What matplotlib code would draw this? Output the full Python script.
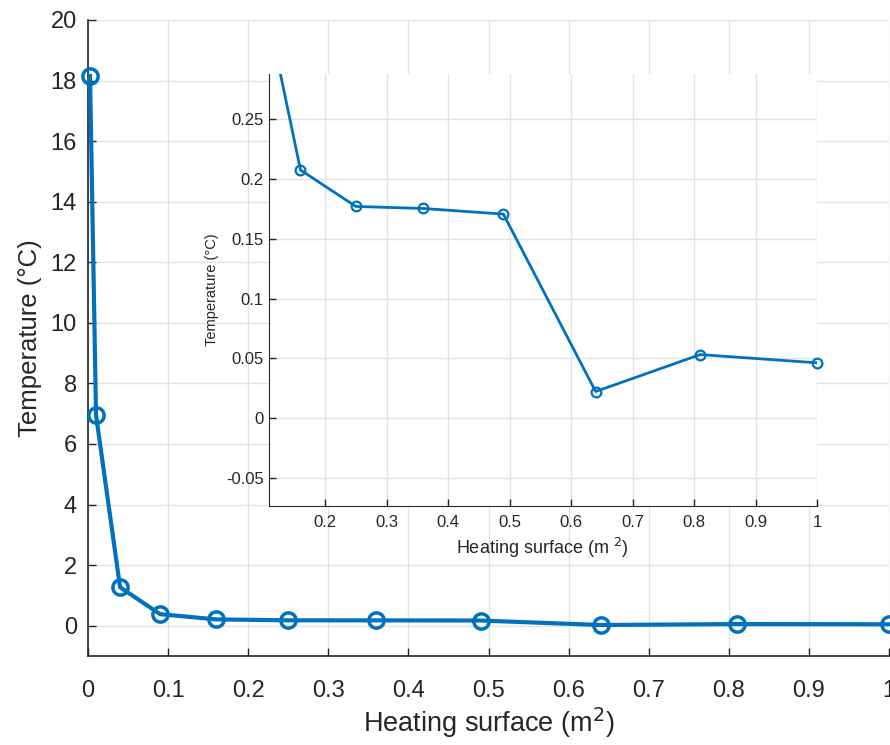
import matplotlib
matplotlib.use("Agg")
import matplotlib.pyplot as plt
import numpy as np

# Data
area = [0.0025, 0.01, 0.04, 0.09, 0.16, 0.25, 0.36, 0.49, 0.64, 0.81, 1.0]
temp = [18.15, 6.95, 1.27, 0.38, 0.2075, 0.177, 0.1753, 0.1706, 0.0222, 0.0531, 0.0462]

main_xticks = np.arange(0, 1.01, 0.1)
main_xlabels = ["0", "0.1", "0.2", "0.3", "0.4", "0.5", "0.6", "0.7", "0.8", "0.9", "1"]
main_yticks = np.arange(0, 21, 2)
inset_xticks = np.arange(0.2, 1.01, 0.1)
inset_xlabels = ["0.2", "0.3", "0.4", "0.5", "0.6", "0.7", "0.8", "0.9", "1"]
inset_yticks = [-0.05, 0, 0.05, 0.1, 0.15, 0.2, 0.25]
inset_ylabels = ["-0.05", "0", "0.05", "0.1", "0.15", "0.2", "0.25"]
inset_xlim = (0.108, 1)
inset_ylim = (-0.0733, 0.2878)

blue = "#0072BD"
grid_c = "#e3e3e3"
axis_c = "#262626"
plt.rcParams['font.family'] = ['Liberation Sans', 'DejaVu Sans']

fig = plt.figure(figsize=(8.9, 7.45), dpi=100)

# Main axes
ax = fig.add_axes([0.0989, 0.1195, 0.9, 0.8537])
ax.plot(area, temp, color=blue, lw=3, marker='o', ms=11, mfc='none', mew=2.5,
        zorder=3, clip_on=False)
ax.set_xlim(0, 1)
ax.set_ylim(-1, 20)
ax.set_xticks(main_xticks)
ax.set_xticklabels(main_xlabels)
ax.set_yticks(main_yticks)
ax.tick_params(direction='in', labelsize=17, colors=axis_c, length=6, width=1)
ax.tick_params(axis='x', pad=17)
ax.tick_params(axis='y', pad=8)
ax.grid(True, color=grid_c, lw=1)
ax.set_axisbelow(True)
for s in ['top', 'right']:
    ax.spines[s].set_visible(False)
for s in ['left', 'bottom']:
    ax.spines[s].set_color(axis_c)
    ax.spines[s].set_linewidth(1.2)
ax.set_xlabel("Heating surface (m$^2$)", fontsize=19.5, color=axis_c, labelpad=3)
ax.set_ylabel("Temperature (°C)", fontsize=18.5, color=axis_c, labelpad=6)

# Inset axes (zoom on the tail)
ins = fig.add_axes([0.3017, 0.3212, 0.6163, 0.5795])
ins.set_facecolor('white')
ins.plot(area, temp, color=blue, lw=2, zorder=3)
a = np.array(area)
t = np.array(temp)
keep = (a >= inset_xlim[0]) & (t <= inset_ylim[1])
ins.plot(a[keep], t[keep], ls='none', marker='o', ms=7, mfc='none', mec=blue,
         mew=1.6, zorder=4, clip_on=False)
ins.set_xlim(*inset_xlim)
ins.set_ylim(*inset_ylim)
ins.set_xticks(inset_xticks)
ins.set_xticklabels(inset_xlabels)
ins.set_yticks(inset_yticks)
ins.set_yticklabels(inset_ylabels)
ins.tick_params(direction='in', labelsize=12, colors=axis_c, length=5, width=1)
ins.tick_params(axis='x', pad=7)
ins.grid(True, color=grid_c, lw=1)
ins.set_axisbelow(True)
for s in ['top', 'right']:
    ins.spines[s].set_visible(False)
for s in ['left', 'bottom']:
    ins.spines[s].set_color(axis_c)
ins.set_xlabel("Heating surface (m $^2$)", fontsize=13, color=axis_c, labelpad=4)
ins.set_ylabel("Temperature (°C)", fontsize=10.5, color=axis_c, labelpad=5)

fig.savefig("out.png", dpi=100)
